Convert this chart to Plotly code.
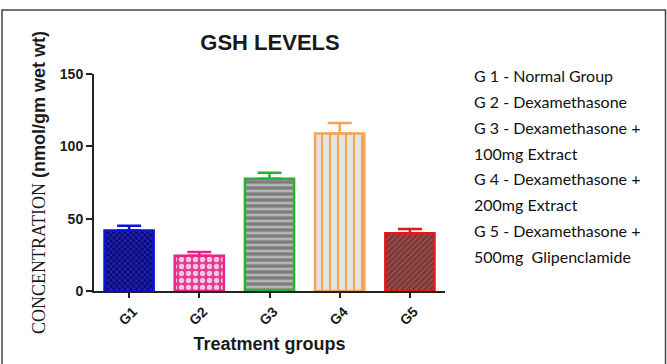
import plotly.graph_objects as go

groups = ["G1", "G2", "G3", "G4", "G5"]
gsh_mean = [41.9, 24.3, 77.6, 108.8, 39.9]
gsh_err = [3.2, 2.6, 4.1, 7.4, 2.9]
y_ticks = [0, 50, 100, 150]
legend_lines = [
    "G 1 - Normal Group",
    "G 2 - Dexamethasone",
    "G 3 - Dexamethasone +",
    "100mg Extract",
    "G 4 - Dexamethasone +",
    "200mg Extract",
    "G 5 - Dexamethasone +",
    "500mg\u00a0 Glipenclamide",
]

border_colors = ["#0a14d8", "#e8258c", "#22b530", "#f5a455", "#e3161a"]
pat_shape = ["x", ".", "-", "|", "/"]
pat_fg = ["#2b2bb8", "#f8c6de", "#b5b5b5", "#f5a455", "#9a5050"]
pat_bg = ["#0b0b7e", "#e33a92", "#7d7d7d", "#e4e4e4", "#7a3434"]
pat_size = [4, 7, 6, 8, 4]
pat_solid = [0.4, 0.45, 0.45, 0.25, 0.4]

# plot area in pixels
W, H = 667, 364
L, R, T, B = 94, 445, 74, 291

fig = go.Figure()
for i, g in enumerate(groups):
    fig.add_trace(go.Bar(
        x=[g], y=[gsh_mean[i]],
        width=0.7,
        marker=dict(
            color=pat_bg[i],
            line=dict(color=border_colors[i], width=2.5),
            pattern=dict(shape=pat_shape[i], fgcolor=pat_fg[i], bgcolor=pat_bg[i],
                         size=pat_size[i], solidity=pat_solid[i], fillmode="replace"),
        ),
        error_y=dict(type="data", array=[gsh_err[i]], arrayminus=[0], symmetric=False,
                     color=border_colors[i], thickness=2.5, width=12),
        showlegend=False,
    ))

def px_x(p):
    return (p - L) / (R - L)

def px_y(p):
    return (B - p) / (B - T)

fig.update_layout(
    width=W, height=H,
    margin=dict(l=L, r=W - R, t=T, b=H - B),
    paper_bgcolor="white", plot_bgcolor="white",
    title=dict(text="<b>GSH LEVELS</b>", xref="paper", x=px_x(270), xanchor="center",
               yref="container", y=1 - 42 / H, yanchor="middle",
               font=dict(family="Liberation Sans, Arial", size=22, color="#1a1a1a")),
    font=dict(family="Liberation Sans, Arial", color="#1a1a1a"),
)

fig.update_xaxes(
    range=[-0.5, 4.5], showline=True, linewidth=2, linecolor="#222",
    ticks="outside", ticklen=5, tickwidth=2, tickcolor="#222",
    tickangle=-45, ticklabelshift=4, ticklabelstandoff=0,
    tickfont=dict(family="Liberation Sans, Arial", size=14, color="#1a1a1a", weight="bold"),
    showgrid=False, zeroline=False,
    title=dict(text="<b>Treatment groups</b>", standoff=10,
               font=dict(family="Liberation Sans, Arial", size=18, color="#1a1a1a")),
)
fig.update_yaxes(
    range=[0, 150], tickvals=y_ticks, showline=True, linewidth=2, linecolor="#222",
    ticks="outside", ticklen=6, tickwidth=2, tickcolor="#222",
    tickfont=dict(family="Liberation Sans, Arial", size=14, color="#1a1a1a", weight="bold"),
    showgrid=False, zeroline=False,
    title=dict(
        text="<span style='font-family:Liberation Serif, Times New Roman, serif;font-size:18px;font-weight:normal'>CONCENTRATION</span> <b>(nmol/gm wet wt)</b>",
        standoff=10,
        font=dict(family="Liberation Sans, Arial", size=18, color="#1a1a1a")),
)

# legend text block on the right
line_y = [75, 101.5, 127, 153, 178.5, 204.5, 230.5, 256.5]
for txt, yc in zip(legend_lines, line_y):
    fig.add_annotation(
        text=txt, xref="paper", yref="paper", x=px_x(472), y=px_y(yc),
        xanchor="left", yanchor="middle", showarrow=False,
        font=dict(family="Lato, Open Sans, sans-serif", size=16, color="#111"),
    )

# outer frame (open at bottom)
fig.add_shape(type="rect", xref="paper", yref="paper",
              x0=px_x(2), x1=px_x(665.5), y0=px_y(380), y1=px_y(10),
              line=dict(color="#444", width=1.5), fillcolor="rgba(0,0,0,0)", layer="above")

fig.write_html("out.html", config={"displayModeBar": False},
               post_script="document.body.style.margin='0';document.body.style.overflow='hidden';")
